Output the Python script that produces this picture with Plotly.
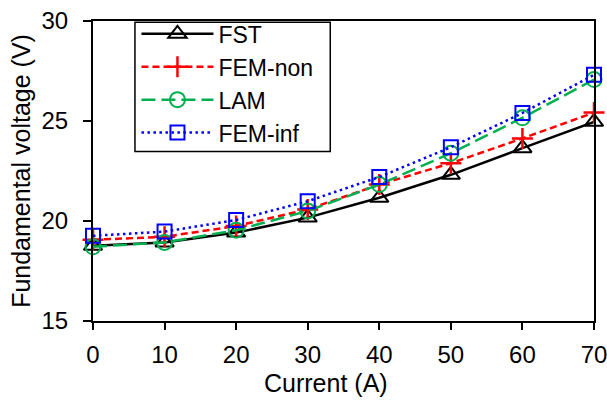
import plotly.graph_objects as go

current = [0, 10, 20, 30, 40, 50, 60, 70]
fst = [18.76, 18.93, 19.42, 20.17, 21.16, 22.31, 23.64, 24.96]
fem_non = [19.06, 19.21, 19.75, 20.58, 21.82, 22.89, 24.13, 25.42]
lam = [18.71, 18.93, 19.54, 20.50, 21.82, 23.39, 25.16, 27.07]
fem_inf = [19.26, 19.47, 20.05, 20.99, 22.20, 23.69, 25.40, 27.31]
y_ticks = [15, 20, 25, 30]

FONT = "Liberation Sans, Arial, sans-serif"
NARROW = "Liberation Sans Narrow, Arial Narrow, Liberation Sans, sans-serif"
FS = 24

fig = go.Figure()
fig.add_trace(go.Scatter(x=current, y=fst, name="FST", mode="lines+markers",
                         line=dict(color="black", width=2.5),
                         marker=dict(symbol="triangle-up-open", size=16, color="black",
                                     line=dict(width=2, color="black")),
                         cliponaxis=False))
fig.add_trace(go.Scatter(x=current, y=fem_non, name="FEM-non", mode="lines+markers",
                         line=dict(color="#ff0000", width=2.5, dash="7px,4px"),
                         marker=dict(symbol="cross-thin-open", size=15, color="#ff0000",
                                     line=dict(width=2.5, color="#ff0000")),
                         cliponaxis=False))
fig.add_trace(go.Scatter(x=current, y=lam, name="LAM", mode="lines+markers",
                         line=dict(color="#00b050", width=2.5, dash="14px,6px"),
                         marker=dict(symbol="circle-open", size=15, color="#00b050",
                                     line=dict(width=2, color="#00b050")),
                         cliponaxis=False))
fig.add_trace(go.Scatter(x=current, y=fem_inf, name="FEM-inf", mode="lines+markers",
                         line=dict(color="#0000ff", width=2.5, dash="2.5px,3.5px"),
                         marker=dict(symbol="square-open", size=14, color="#0000ff",
                                     line=dict(width=2, color="#0000ff")),
                         cliponaxis=False))

L, R, T, B = 92.5, 13, 18.3, 79
W, H = 607, 400
plot_w = W - L - R
plot_h = H - T - B


def px_x(p):
    return (p - L) / plot_w


def px_y(p):
    return (H - B - p) / plot_h


fig.update_layout(
    width=W, height=H,
    margin=dict(l=L, r=R, t=T, b=B),
    paper_bgcolor="white", plot_bgcolor="white",
    font=dict(family=FONT, size=FS, color="black"),
    showlegend=True,
    legend=dict(x=px_x(136), y=px_y(9.6), xanchor="left", yanchor="top",
                bgcolor="rgba(0,0,0,0)", borderwidth=0,
                font=dict(size=23), itemwidth=72, tracegroupgap=0),
    shapes=[dict(type="rect", xref="paper", yref="paper",
                 x0=px_x(134.5), x1=px_x(330), y0=px_y(150), y1=px_y(19.5),
                 line=dict(color="black", width=1.5), fillcolor="white", layer="below")],
    xaxis=dict(range=[0, 70], tickvals=current, ticks="outside", ticklen=7, tickwidth=2,
               tickcolor="black", showline=True, linecolor="black", linewidth=2,
               mirror=True, showgrid=False, zeroline=False, automargin=False,
               ticklabelstandoff=4, ticklabeloverflow="allow",
               tickfont=dict(size=FS)),
    yaxis=dict(range=[15, 30], tickvals=y_ticks, ticks="outside", ticklen=8,
               tickwidth=2, tickcolor="black", showline=True, linecolor="black",
               linewidth=2, mirror=True, showgrid=False, zeroline=False, automargin=False,
               ticklabelstandoff=10, ticklabeloverflow="allow",
               title=dict(text="Fundamental voltage (V)", standoff=4,
                          font=dict(family=NARROW, size=25)),
               tickfont=dict(size=FS)),
    annotations=[dict(text="Current (A)", xref="paper", yref="paper",
                      x=px_x(325.5), y=px_y(400),
                      xanchor="center", yanchor="bottom", showarrow=False,
                      font=dict(family=NARROW, size=25))],
)

fig.write_html("out.html", config={"displayModeBar": False},
               post_script="document.body.style.margin='0';")
